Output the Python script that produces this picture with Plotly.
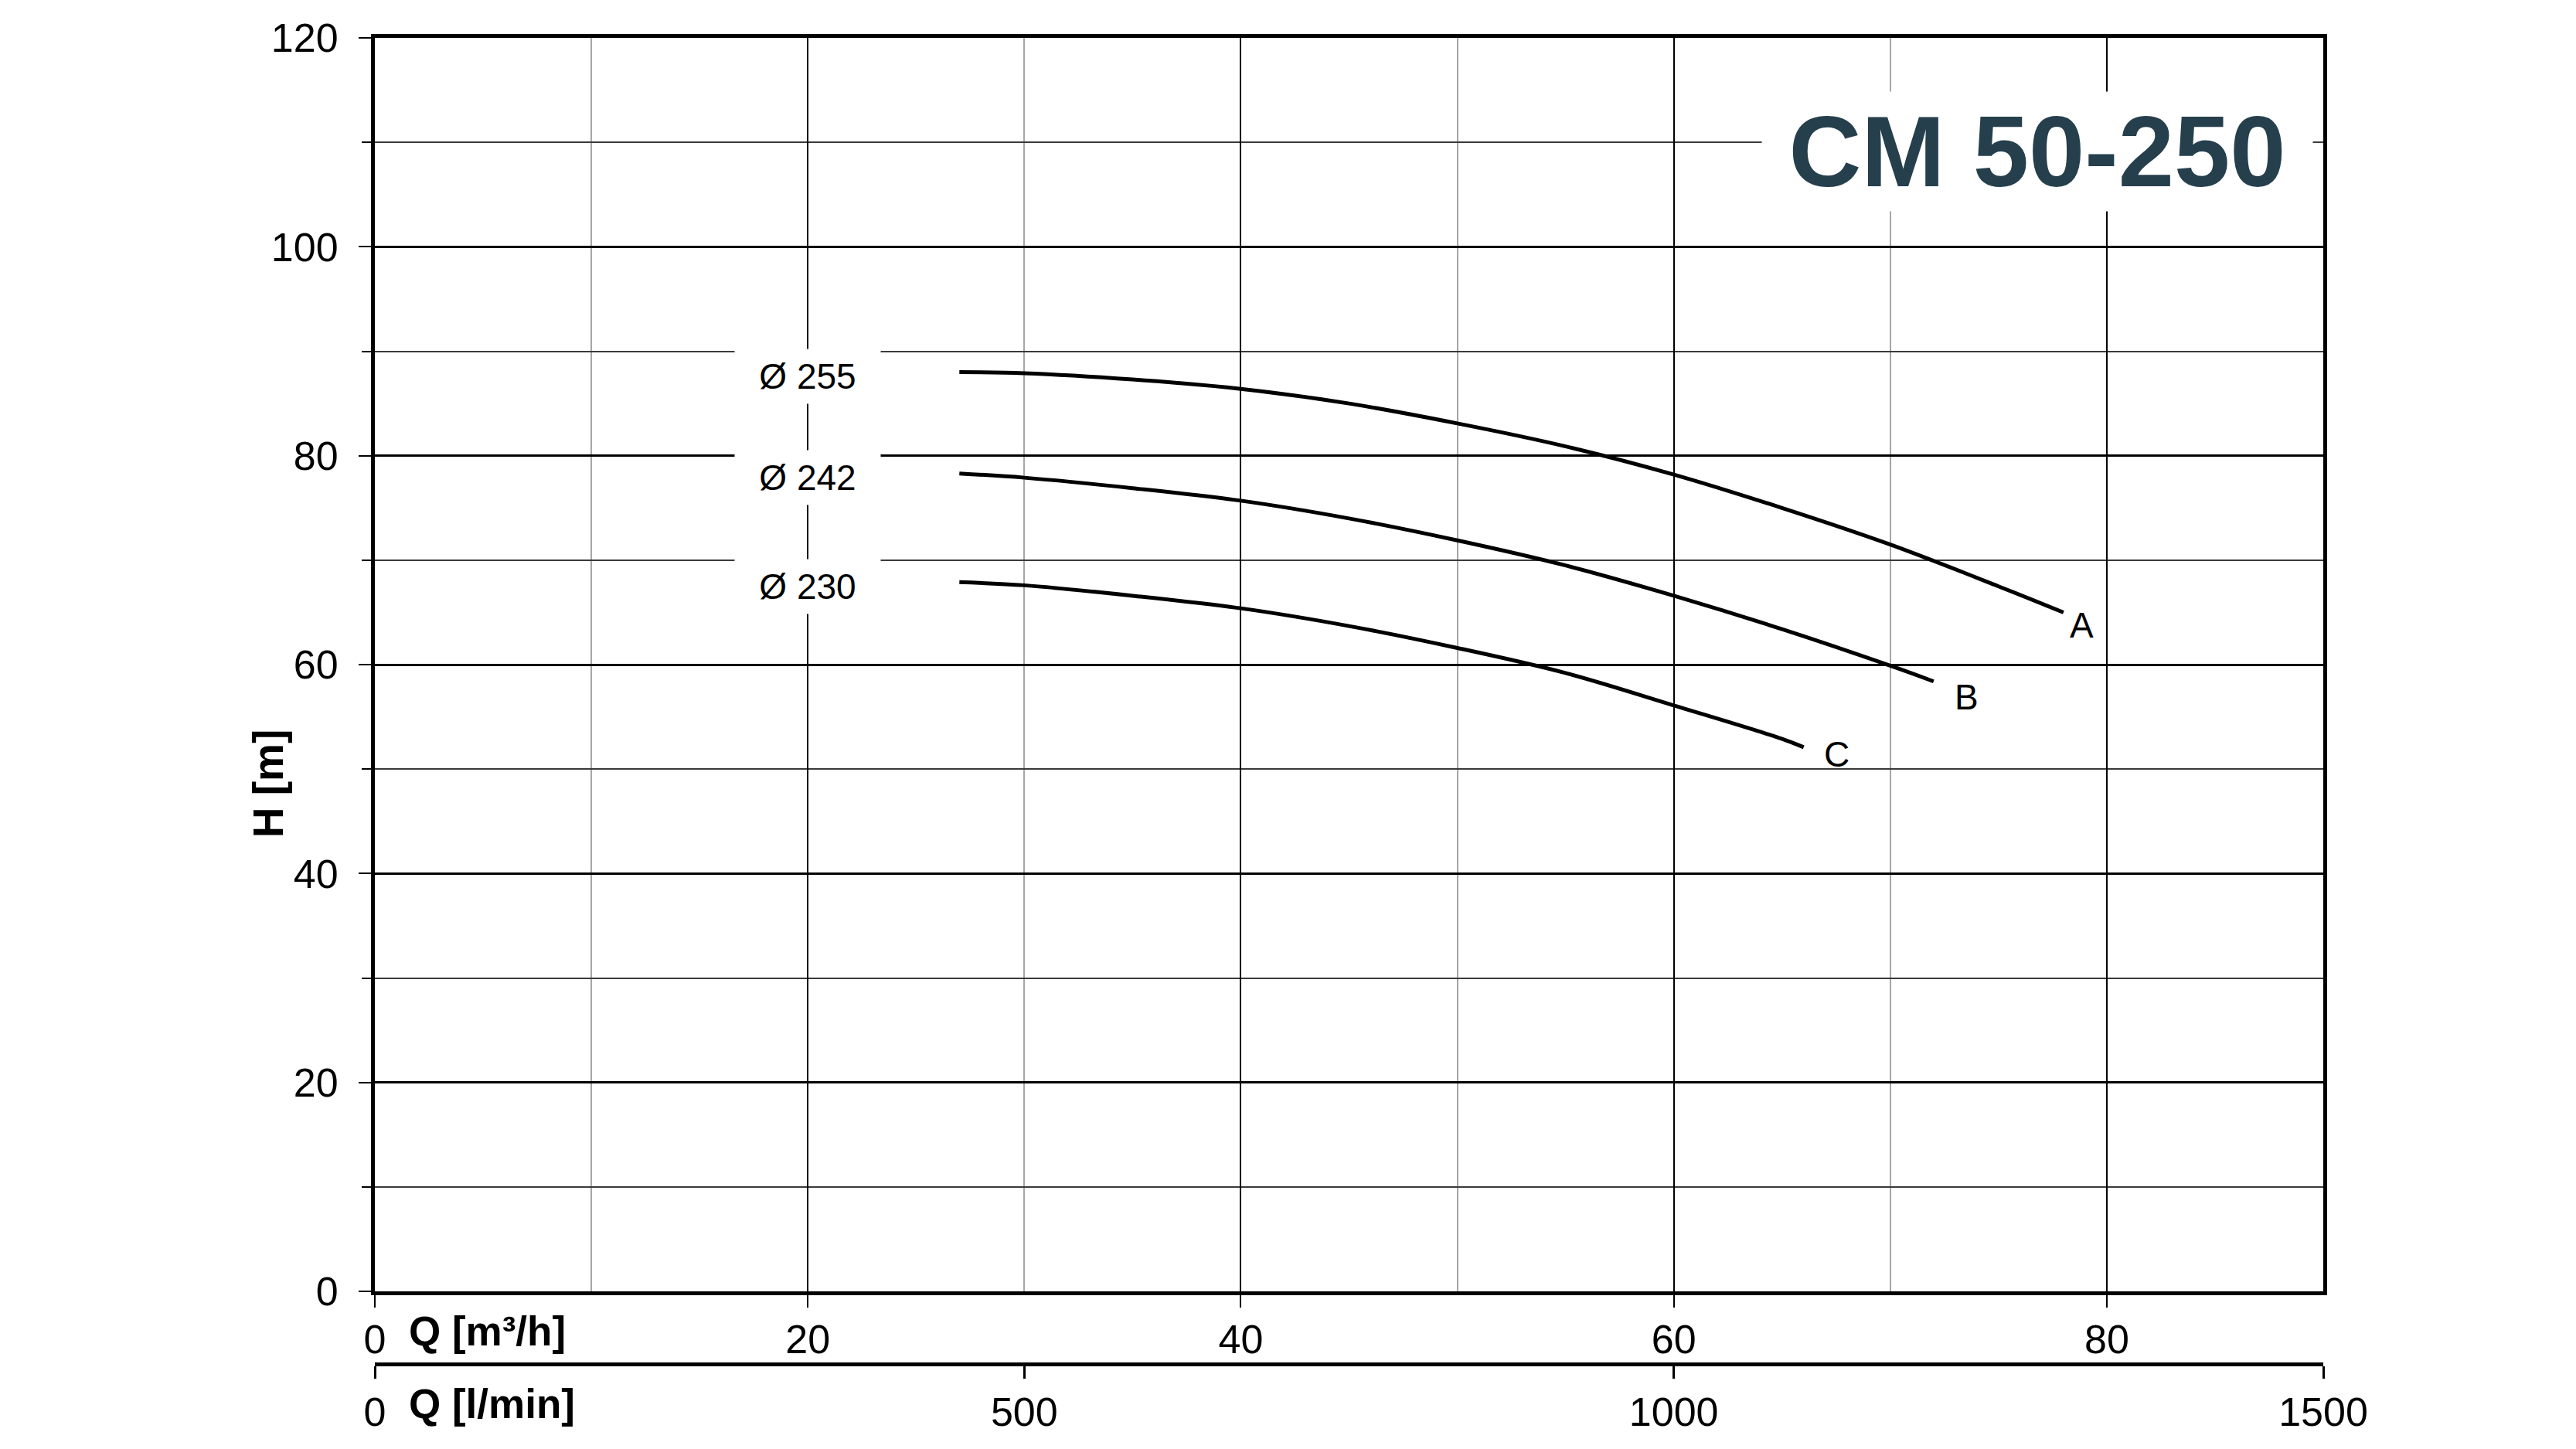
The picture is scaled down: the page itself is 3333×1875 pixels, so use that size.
import plotly.graph_objects as go

# Pump curves CM 50-250, flow Q in m3/h, head H in m
Q_A = [27, 30, 35, 40, 45, 50, 55, 60, 65, 70, 75, 78]
H_A = [88.0, 87.9, 87.3, 86.4, 85.0, 83.1, 80.9, 78.2, 75.0, 71.5, 67.5, 65.0]

Q_B = [27, 30, 35, 40, 45, 50, 55, 60, 65, 70, 72]
H_B = [78.3, 77.9, 76.9, 75.7, 74.0, 71.9, 69.5, 66.6, 63.4, 59.9, 58.4]

Q_C = [27, 30, 35, 40, 45, 50, 55, 60, 65, 66]
H_C = [67.9, 67.6, 66.6, 65.4, 63.7, 61.6, 59.2, 56.1, 52.9, 52.1]

CURVE_NAMES = ["A", "B", "C"]
DIAMETERS = ["Ø 255", "Ø 242", "Ø 230"]
Q_TICKS = [0, 20, 40, 60, 80]
LMIN_TICKS = [0, 500, 1000, 1500]
H_TICKS = [0, 20, 40, 60, 80, 100, 120]

FONT = "Liberation Sans, Arial, sans-serif"
TITLE_COLOR = "#263f4c"

# page has an 8px body margin, margins below account for it
W, H = 3333, 1875
M_L, M_R, M_T, M_B = 477, 335, 37, 118
Y_BOTTOM = (1765 - 1671) / (1765 - 45)

# offsets of the A/B/C letters from the curve ends
LETTER_SHIFT = {"A": (24, -16), "B": (43, -20), "C": (43, -9)}

fig = go.Figure()

curves = [(Q_A, H_A), (Q_B, H_B), (Q_C, H_C)]
for (q, h), name in zip(curves, CURVE_NAMES):
    fig.add_trace(go.Scatter(
        x=q, y=h, mode="lines", name=name,
        line=dict(color="black", width=5, shape="spline"),
        hoverinfo="skip", showlegend=False,
    ))
    dx, dy = LETTER_SHIFT[name]
    fig.add_annotation(
        x=q[-1], y=h[-1], text=name, showarrow=False,
        xanchor="center", yanchor="middle", xshift=dx, yshift=dy,
        font=dict(family=FONT, size=46, color="black"),
    )

# invisible trace so the l/min axis gets drawn
fig.add_trace(go.Scatter(
    x=[v * 1000 / 60 for v in Q_A], y=H_A, xaxis="x2", mode="lines",
    line=dict(width=0), opacity=0, hoverinfo="skip", showlegend=False,
))

# diameter labels on white boxes
for (q, h), d in zip(curves, DIAMETERS):
    fig.add_annotation(
        x=20, y=h[0] - 0.4, text=d, showarrow=False,
        xanchor="center", yanchor="middle",
        font=dict(family=FONT, size=46, color="black"),
        bgcolor="white", width=188, height=70, borderpad=0,
    )

# model name
fig.add_annotation(
    x=76.8, y=109.1, text="<b>CM 50-250</b>", showarrow=False,
    xanchor="center", yanchor="middle",
    font=dict(family=FONT, size=130, color=TITLE_COLOR),
    bgcolor="white", width=712, height=154, borderpad=0,
)

# axis titles
fig.add_annotation(
    x=0, xref="paper", xshift=-138, y=48.6, yref="y",
    text="<b>H [m]</b>", textangle=-90, showarrow=False,
    xanchor="center", yanchor="middle",
    font=dict(family=FONT, size=55, color="black"),
)
fig.add_annotation(
    x=0, xref="paper", xshift=42, y=0.025, yref="paper",
    text="<b>Q [m³/h]</b>", showarrow=False, xanchor="left", yanchor="middle",
    font=dict(family=FONT, size=53, color="black"),
)
fig.add_annotation(
    x=0, xref="paper", xshift=42, y=-0.030, yref="paper",
    text="<b>Q [l/min]</b>", showarrow=False, xanchor="left", yanchor="middle",
    font=dict(family=FONT, size=53, color="black"),
)

fig.update_layout(
    width=W, height=H,
    margin=dict(l=M_L, r=M_R, t=M_T, b=M_B),
    paper_bgcolor="white", plot_bgcolor="white",
    font=dict(family=FONT, size=52, color="black"),
    xaxis=dict(
        range=[0, 90], tickvals=Q_TICKS, anchor="y",
        showgrid=True, gridcolor="black", gridwidth=2,
        minor=dict(dtick=10, showgrid=True, gridcolor="#a6a6a6", gridwidth=2),
        showline=True, linecolor="black", linewidth=5, mirror=True,
        ticks="outside", ticklen=16, tickwidth=2, tickcolor="black",
        zeroline=False, tickfont=dict(size=52), ticklabelstandoff=-4,
    ),
    xaxis2=dict(
        range=[0, 1500], tickvals=LMIN_TICKS, overlaying="x",
        anchor="free", position=0, side="bottom",
        showgrid=False, zeroline=False,
        showline=True, linecolor="black", linewidth=5,
        ticks="outside", ticklen=16, tickwidth=3, tickcolor="black",
        tickfont=dict(size=52), ticklabelstandoff=-1,
    ),
    yaxis=dict(
        range=[0, 120], tickvals=H_TICKS, domain=[Y_BOTTOM, 1],
        showgrid=True, gridcolor="black", gridwidth=2.5,
        minor=dict(dtick=10, showgrid=True, gridcolor="#3a3a3a", gridwidth=1.5,
                   ticks="outside", ticklen=12, tickwidth=2, tickcolor="black"),
        showline=True, linecolor="black", linewidth=5, mirror=True,
        ticks="outside", ticklen=16, tickwidth=2, tickcolor="black",
        zeroline=False, tickfont=dict(size=52), ticklabelstandoff=16,
    ),
)

fig.write_html("out.html")
